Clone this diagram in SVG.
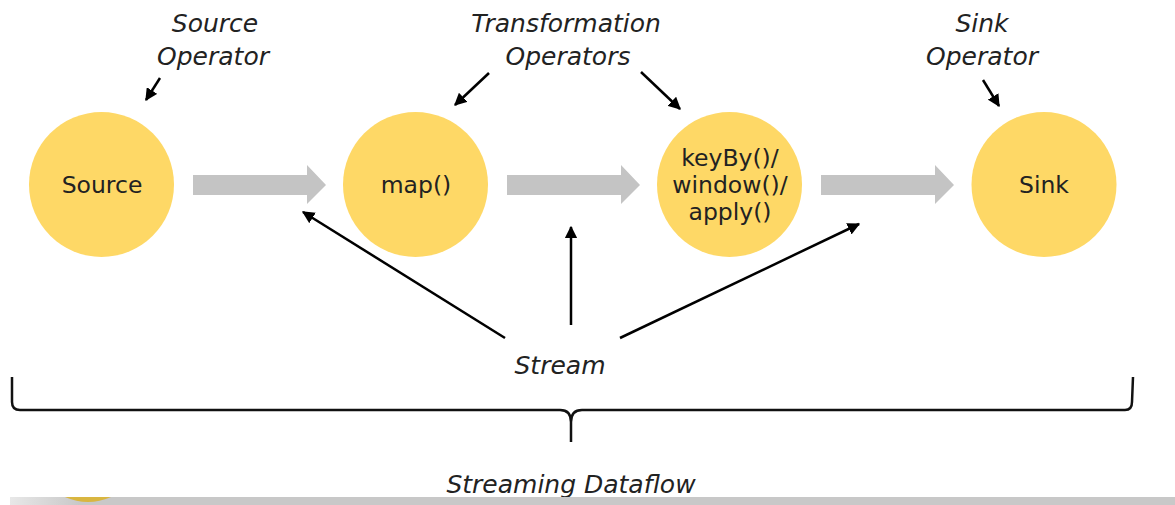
<svg xmlns="http://www.w3.org/2000/svg" width="1175" height="505" viewBox="0 0 1175 505">
<defs>
<marker id="ah" viewBox="0 0 10 10" refX="9" refY="5" markerWidth="5" markerHeight="5" orient="auto" markerUnits="strokeWidth">
<path d="M0,0 L10,5 L0,10 z" fill="#000"/>
</marker>
<linearGradient id="bar" x1="0" x2="1" y1="0" y2="0">
<stop offset="0" stop-color="#e8e8e8"/>
<stop offset="0.06" stop-color="#c8c8c8"/>
<stop offset="1" stop-color="#c8c8c8"/>
</linearGradient>
<style>
.node{fill:#fed866}
.nt{font-family:"DejaVu Sans",sans-serif;font-size:23.5px;fill:#222;text-anchor:middle}
.lbl{font-family:"DejaVu Sans",sans-serif;font-size:25px;font-style:italic;fill:#222;text-anchor:middle}
.flow{fill:#c4c4c4}
.ar{stroke:#000;stroke-width:2.5;fill:none;marker-end:url(#ah)}
</style>
</defs>
<rect width="1175" height="505" fill="#fff"/>
<g id="source"><circle class="node" cx="101.5" cy="184.5" r="72.5"/><text class="nt" x="102" y="193">Source</text></g>
<g id="map"><circle class="node" cx="415.5" cy="184.5" r="72.5"/><text class="nt" x="416" y="193">map()</text></g>
<g id="keyby"><circle class="node" cx="729.5" cy="184.5" r="72.5"/><text class="nt" x="730" y="166">keyBy()/</text><text class="nt" x="730" y="193">window()/</text><text class="nt" x="730" y="220">apply()</text></g>
<g id="sink"><circle class="node" cx="1044" cy="184.5" r="72.5"/><text class="nt" x="1044" y="193">Sink</text></g>
<g id="labels">
<text class="lbl" x="215" y="32">Source</text><text class="lbl" x="213" y="65">Operator</text>
<text class="lbl" x="566" y="32">Transformation</text><text class="lbl" x="568" y="65">Operators</text>
<text class="lbl" x="982" y="32">Sink</text><text class="lbl" x="982" y="65">Operator</text>
<text class="lbl" x="560" y="374">Stream</text>
</g>
<g id="connectors">
<path class="flow" d="M193,175 H307 V165 L326,185 L307,204 V195 H193 z"/>
<path class="flow" d="M507,175 H621 V165 L640,185 L621,204 V195 H507 z"/>
<path class="flow" d="M821,175 H935 V165 L954,185 L935,204 V195 H821 z"/>
<line class="ar" x1="505" y1="338" x2="303" y2="212"/>
<line class="ar" x1="571" y1="325" x2="571" y2="227"/>
<line class="ar" x1="620" y1="338" x2="859" y2="224"/>
<line class="ar" x1="160" y1="78" x2="146" y2="100"/>
<line class="ar" x1="489" y1="73" x2="455" y2="105"/>
<line class="ar" x1="641" y1="72" x2="680" y2="109"/>
<line class="ar" x1="983" y1="80" x2="999" y2="106"/>
</g>
<g id="brace">
<path d="M12,377 V402 Q12,410 20,410 H560 Q571,410 571,422 V442 M571,422 Q571,410 582,410 H1125 Q1132,410 1132,402 L1133,377" fill="none" stroke="#111" stroke-width="2.5"/>
</g>
<text class="lbl" x="571" y="493">Streaming Dataflow</text>
<rect x="10" y="497" width="1165" height="8" fill="url(#bar)"/>
<path d="M65,497 Q88,507 111,497 z" fill="#d9b640"/>
</svg>
